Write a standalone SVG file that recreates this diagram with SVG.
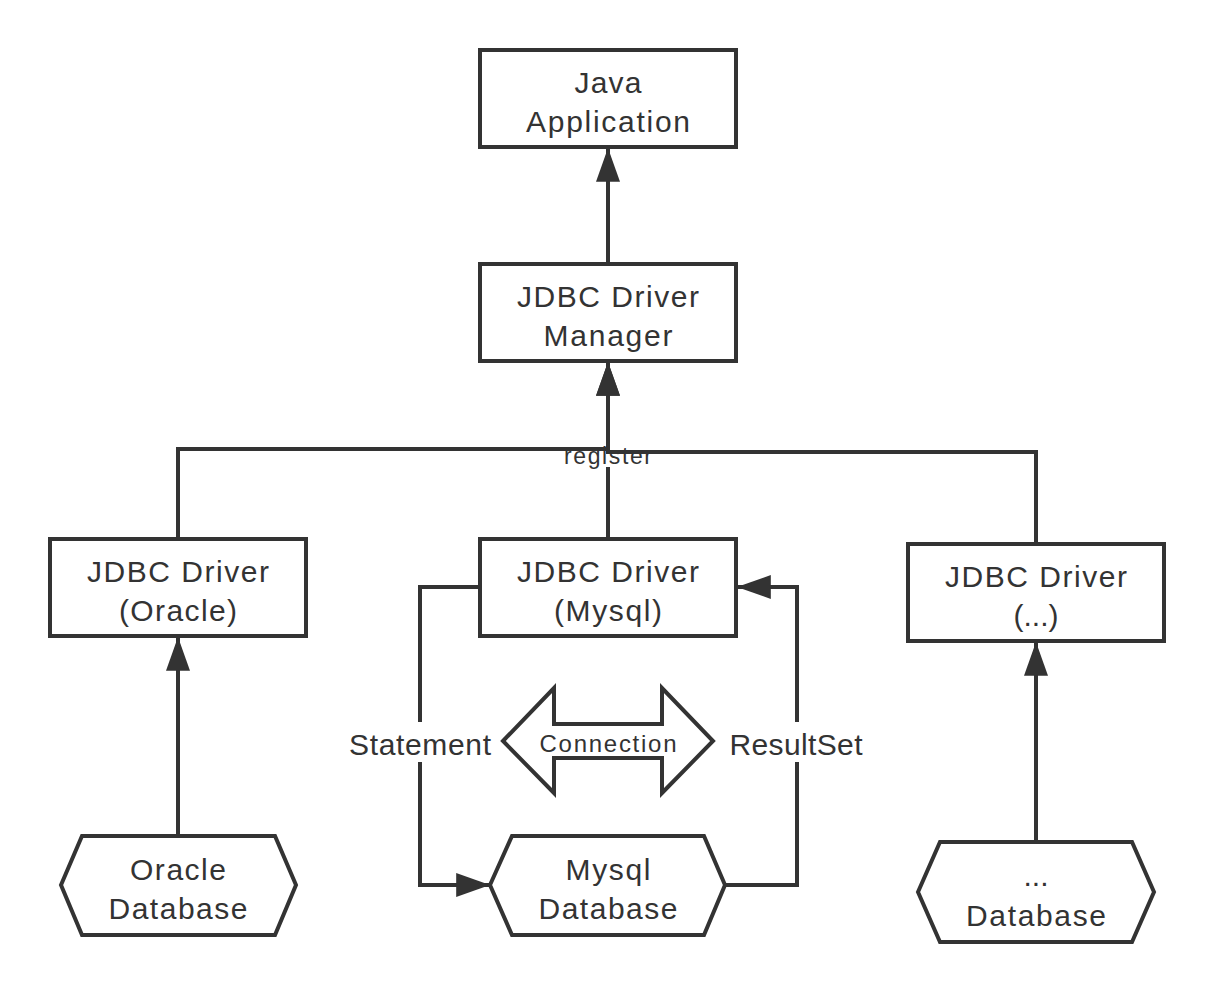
<svg xmlns="http://www.w3.org/2000/svg" width="1214" height="992" viewBox="0 0 1214 992">
<defs>
<style>
.box{fill:#fff;stroke:#333;stroke-width:4}
.ln{fill:none;stroke:#333;stroke-width:4}
.t{font-family:"Liberation Sans",Arial,sans-serif;font-size:30px;fill:#333;text-anchor:middle}
.lbl{font-family:"Liberation Sans",Arial,sans-serif;font-size:30px;fill:#333;text-anchor:middle}
</style>
<marker id="ah" markerUnits="userSpaceOnUse" markerWidth="34" markerHeight="24" viewBox="0 0 31 22" refX="31" refY="11" orient="auto">
<path d="M0,0 L31,11 L0,22 Z" fill="#333"/>
</marker>
</defs>
<rect width="1214" height="992" fill="#fff"/>

<g id="connectors">
<path class="ln" d="M608,264 V148" marker-end="url(#ah)"/>
<path class="ln" d="M608,538 V467"/>
<text class="lbl" x="608" y="464" style="font-size:23px" textLength="88" lengthAdjust="spacing">register</text>
<path class="ln" d="M178,539 V449 H608 V362" marker-end="url(#ah)"/>
<path class="ln" d="M1036,544 V452 H608 V362" marker-end="url(#ah)"/>
<path class="ln" d="M178,836 V637" marker-end="url(#ah)"/>
<path class="ln" d="M1036,842 V642" marker-end="url(#ah)"/>
<path class="ln" d="M480,587 H420 V885 H490" marker-end="url(#ah)"/>
<path class="ln" d="M725,885 H797 V587 H737" marker-end="url(#ah)"/>
<rect x="348" y="722" width="144" height="40" fill="#fff"/>
<text class="lbl" x="420" y="755" textLength="142" lengthAdjust="spacing">Statement</text>
<rect x="728" y="722" width="136" height="40" fill="#fff"/>
<text class="lbl" x="796" y="755" textLength="133" lengthAdjust="spacing">ResultSet</text>
</g>

<g id="java-app">
<rect class="box" x="480" y="50" width="256" height="97"/>
<text class="t" x="608" y="93" textLength="67" lengthAdjust="spacing">Java</text>
<text class="t" x="608" y="132" textLength="164" lengthAdjust="spacing">Application</text>
</g>

<g id="driver-manager">
<rect class="box" x="480" y="264" width="256" height="97"/>
<text class="t" x="608" y="307" textLength="182" lengthAdjust="spacing">JDBC Driver</text>
<text class="t" x="608" y="346" textLength="129" lengthAdjust="spacing">Manager</text>
</g>

<g id="driver-oracle">
<rect class="box" x="50" y="539" width="256" height="97"/>
<text class="t" x="178" y="582" textLength="182" lengthAdjust="spacing">JDBC Driver</text>
<text class="t" x="178" y="621" textLength="118" lengthAdjust="spacing">(Oracle)</text>
</g>

<g id="driver-mysql">
<rect class="box" x="480" y="539" width="256" height="97"/>
<text class="t" x="608" y="582" textLength="182" lengthAdjust="spacing">JDBC Driver</text>
<text class="t" x="608" y="621" textLength="108" lengthAdjust="spacing">(Mysql)</text>
</g>

<g id="driver-other">
<rect class="box" x="908" y="544" width="256" height="97"/>
<text class="t" x="1036" y="587" textLength="182" lengthAdjust="spacing">JDBC Driver</text>
<text class="t" x="1036" y="626" textLength="45" lengthAdjust="spacing">(...)</text>
</g>

<g id="connection">
<polygon class="box" points="503,741 554,688 554,724 662,724 662,688 713,741 662,793 662,758 554,758 554,793"/>
<text class="t" x="608" y="752" style="font-size:24px" textLength="137" lengthAdjust="spacing">Connection</text>
</g>

<g id="db-oracle">
<polygon class="box" points="61,885 82,836 275,836 296,885 275,935 82,935"/>
<text class="t" x="178" y="880" textLength="96" lengthAdjust="spacing">Oracle</text>
<text class="t" x="178" y="919" textLength="139" lengthAdjust="spacing">Database</text>
</g>

<g id="db-mysql">
<polygon class="box" points="490,885 512,836 704,836 725,885 704,935 512,935"/>
<text class="t" x="608" y="880" textLength="85" lengthAdjust="spacing">Mysql</text>
<text class="t" x="608" y="919" textLength="139" lengthAdjust="spacing">Database</text>
</g>

<g id="db-other">
<polygon class="box" points="918,892 940,842 1132,842 1154,892 1132,942 940,942"/>
<text class="t" x="1036" y="886">...</text>
<text class="t" x="1036" y="926" textLength="140" lengthAdjust="spacing">Database</text>
</g>
</svg>
